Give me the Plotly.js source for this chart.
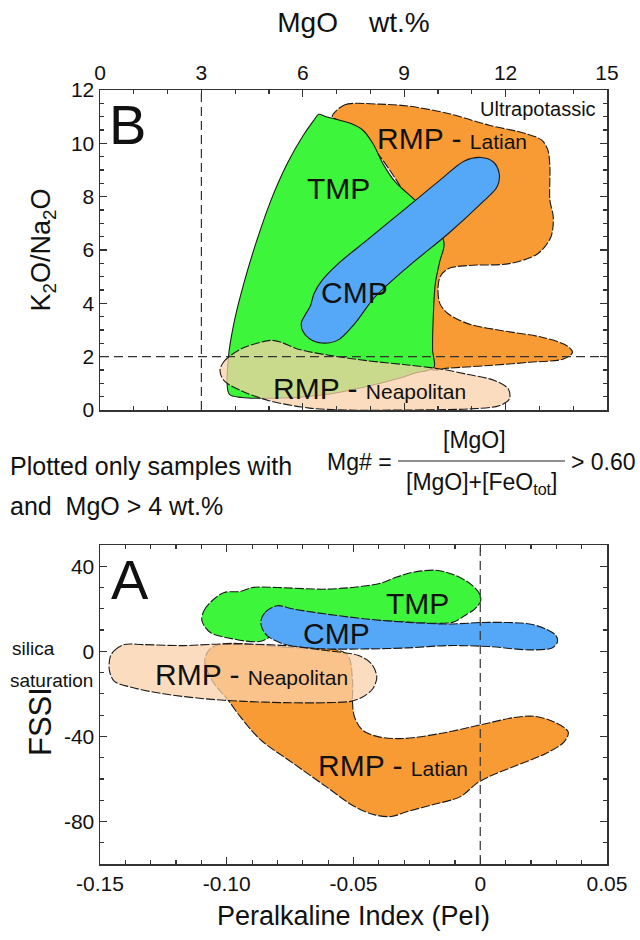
<!DOCTYPE html>
<html><head><meta charset="utf-8">
<script src="https://cdn.plot.ly/plotly-3.0.1.min.js"></script>
<style>html,body{margin:0;padding:0;background:#fff}#chart{width:640px;height:940px}</style>
</head><body><div id="chart"></div>
<script>
// ---------- Panel B : MgO (wt.%) vs K2O/Na2O ----------
const bLatianMgO = [6.87,7.23,8.25,9.10,10.30,11.51,12.59,13.07,13.25,13.31,13.31,13.41,13.34,12.95,12.11,10.90,10.30,10.06,10.00,10.06,10.30,10.90,11.87,13.07,13.80,13.98,13.73,12.71,11.51,10.30,9.76,9.58,9.58,7.89,7.05,6.87];
const bLatianK   = [11.00,11.44,11.47,11.40,11.12,10.68,10.37,10.12,9.75,9.12,7.87,7.24,6.49,5.86,5.49,5.42,5.30,4.99,4.48,3.98,3.61,3.23,2.98,2.73,2.42,2.17,1.92,1.79,1.67,1.57,1.54,4.11,6.61,10.12,10.87,11.00];

const bTmpMgO = [3.80,3.98,4.28,4.64,5.06,5.54,6.02,6.33,6.47,6.69,7.41,7.77,8.07,8.37,8.73,9.10,9.82,10.18,10.06,9.92,9.86,9.84,9.88,9.30,8.87,7.80,6.80,5.90,4.80,4.20,3.82,3.80];
const bTmpK   = [1.98,3.36,4.86,6.36,7.87,9.24,10.31,10.87,11.09,11.00,10.75,10.50,10.00,9.24,8.56,8.12,7.24,6.24,5.61,4.73,3.48,2.23,1.60,1.38,1.20,0.85,0.60,0.48,0.44,0.47,0.60,1.98];

const bCmpMgO = [5.96,6.06,6.23,6.33,6.57,7.05,7.89,9.10,10.06,10.78,11.27,11.63,11.81,11.75,11.27,10.30,9.10,8.13,7.53,7.05,6.57,6.20,5.99,5.96];
const bCmpK   = [3.29,3.54,3.92,4.36,4.86,5.49,6.36,7.62,8.62,9.34,9.47,9.31,8.87,8.37,7.74,6.61,5.36,4.23,3.23,2.63,2.51,2.67,2.98,3.29];

const bNeapMgO = [3.55,3.65,3.86,4.28,5.06,5.36,5.84,6.69,7.89,9.10,10.06,10.90,11.69,12.08,12.11,11.81,10.90,9.10,7.29,6.20,5.00,4.16,3.67,3.55];
const bNeapK   = [1.48,1.79,2.04,2.35,2.61,2.54,2.29,2.07,1.85,1.69,1.54,1.33,1.10,0.79,0.41,0.16,0.04,0.00,0.00,0.07,0.35,0.73,1.10,1.48];

// ---------- Panel A : Peralkaline Index vs FSSI ----------
const aLatianPeI = [-0.1018,-0.0769,-0.0528,-0.0504,-0.0504,-0.0496,-0.0464,-0.0400,-0.0303,-0.0159,-0.0046,0.0034,0.0131,0.0211,0.0291,0.0347,0.0331,0.0259,0.0147,0.0034,-0.0014,-0.0078,-0.0191,-0.0287,-0.0351,-0.0416,-0.0496,-0.0608,-0.0737,-0.0865,-0.0946,-0.0994,-0.1058,-0.1087,-0.1066,-0.1018];
const aLatianFSSI = [3.48,1.92,-1.20,-13.68,-23.83,-30.86,-37.10,-40.22,-41.00,-38.66,-35.85,-33.66,-31.17,-30.54,-33.20,-37.88,-42.56,-48.02,-53.49,-58.95,-62.07,-68.32,-72.22,-75.34,-77.68,-76.90,-73.00,-63.63,-52.71,-41.78,-30.86,-23.05,-13.68,-4.32,1.14,3.48];

const aTmpPeI = [-0.1098,-0.1090,-0.1058,-0.1010,-0.0946,-0.0898,-0.0801,-0.0608,-0.0448,-0.0384,-0.0335,-0.0271,-0.0175,-0.0110,-0.0046,-0.0006,0.0002,-0.0022,-0.0062,-0.0110,-0.0448,-0.0769,-0.0865,-0.0994,-0.1066,-0.1098];
const aTmpFSSI = [14.41,19.09,23.78,27.68,28.15,30.02,30.02,29.24,30.80,32.36,34.70,37.04,38.14,36.26,32.36,27.68,23.78,19.87,16.75,13.63,14.41,11.29,4.73,6.29,8.95,14.41];

const aCmpPeI = [-0.0865,-0.0849,-0.0801,-0.0737,-0.0608,-0.0448,-0.0287,-0.0127,0.0034,0.0195,0.0259,0.0299,0.0304,0.0283,0.0195,0.0034,-0.0127,-0.0287,-0.0448,-0.0608,-0.0705,-0.0785,-0.0841,-0.0862,-0.0865];
const aCmpFSSI = [14.41,18.31,21.44,19.87,17.53,15.19,13.63,12.85,13.63,12.85,10.51,7.39,4.27,1.61,0.68,2.24,2.70,1.61,1.14,1.14,1.92,3.80,7.39,11.29,14.41];

const aNeapPeI = [-0.1460,-0.1444,-0.1404,-0.1331,-0.1171,-0.1010,-0.0769,-0.0608,-0.0480,-0.0429,-0.0408,-0.0424,-0.0464,-0.0512,-0.0608,-0.0769,-0.0930,-0.1090,-0.1251,-0.1380,-0.1444,-0.1463,-0.1460];
const aNeapFSSI = [-2.76,0.36,3.17,3.17,2.70,3.48,2.70,0.36,-1.98,-5.88,-12.12,-17.59,-21.49,-23.52,-24.14,-24.14,-23.52,-22.27,-19.93,-16.81,-14.00,-9.00,-2.76];

// reference lines
const refMgO = 3, refK = 2, refPeI = 0;

// tick labels
const mgoTickVals = [0,3,6,9,12,15];
const mgoTickText = ['0','3','6','9','12','15'];
const kTickVals = [0,2,4,6,8,10,12];
const kTickText = ['0','2','4','6','8','10','12'];
const peiTickVals = [-0.15,-0.10,-0.05,0,0.05];
const peiTickText = ['-0.15','-0.10','-0.05','0','0.05'];
const fssiTickVals = [40,0,-40,-80];
const fssiTickText = ['40','0','-40','-80'];

const FONT = 'Liberation Sans, Arial, Helvetica, sans-serif';
const C_ORANGE = '#F99B35', C_GREEN = '#3DF53A', C_BLUE = '#55A8F7', C_PEACH = 'rgba(250,208,168,0.75)';
const EDGE = '#1a1a1a';

function region(x, y, fill, xa, ya, dash) {
  return {type:'scatter', mode:'lines', x:x, y:y, xaxis:xa, yaxis:ya, fill:'toself', fillcolor:fill,
    line:{color:EDGE, width:1.1, shape:'spline', smoothing:0.9, dash:dash||'solid'},
    hoverinfo:'skip', showlegend:false};
}
const DASH = '9px,2px';
const traces = [
  region(bLatianMgO, bLatianK, C_ORANGE, 'x', 'y', DASH),
  region(bTmpMgO, bTmpK, C_GREEN, 'x', 'y'),
  region(bCmpMgO, bCmpK, C_BLUE, 'x', 'y'),
  region(bNeapMgO, bNeapK, C_PEACH, 'x', 'y', DASH),
  region(aLatianPeI, aLatianFSSI, C_ORANGE, 'x2', 'y2', DASH),
  region(aTmpPeI, aTmpFSSI, C_GREEN, 'x2', 'y2', DASH),
  region(aCmpPeI, aCmpFSSI, C_BLUE, 'x2', 'y2', DASH),
  region(aNeapPeI, aNeapFSSI, C_PEACH, 'x2', 'y2', DASH)
];

const axCommon = {showgrid:false, zeroline:false, showline:true, linecolor:'#333', linewidth:1.5,
  ticks:'inside', ticklen:7, tickwidth:1.2, tickcolor:'#333', mirror:'allticks',
  tickfont:{family:FONT, size:21, color:'#111'}, tickmode:'array', automargin:false, fixedrange:true};
function minor(d, t0) { return {tickmode:'linear', tick0:t0, dtick:d, ticklen:4, tickwidth:1.2, tickcolor:'#333', ticks:'inside'}; }

const xDom = [100/640, 607/640];
function note(xr, yr, x, y, text, size, xanchor, extra) {
  return Object.assign({xref:xr, yref:yr, x:x, y:y, text:text, showarrow:false,
    xanchor:xanchor||'center', yanchor:'middle', font:{size:size}}, extra||{});
}
const layout = {
  width:640, height:940, margin:{l:0,r:0,t:0,b:0}, paper_bgcolor:'#fff', plot_bgcolor:'#fff',
  font:{family:FONT, color:'#111'}, showlegend:false,
  xaxis: Object.assign({}, axCommon, {domain:xDom, anchor:'y', side:'top', range:[0,15],
    tickvals:mgoTickVals, ticktext:mgoTickText, minor:minor(1,0),
    title:{text:'MgO\u00a0\u00a0\u00a0\u00a0wt.%', font:{family:FONT, size:28, color:'#111'}, standoff:20}}),
  yaxis: Object.assign({}, axCommon, {domain:[1-410/940, 1-90/940], anchor:'x', range:[0,12],
    tickvals:kTickVals, ticktext:kTickText, minor:minor(0.5,0),
    title:{text:'K<sub>2</sub>O/Na<sub>2</sub>O', font:{family:FONT, size:27, color:'#111'}, standoff:12}}),
  xaxis2: Object.assign({}, axCommon, {domain:xDom, anchor:'y2', range:[-0.15,0.05],
    tickvals:peiTickVals, ticktext:peiTickText, minor:minor(0.01,0),
    title:{text:'Peralkaline Index (PeI)', font:{family:FONT, size:27, color:'#111'}, standoff:12}}),
  yaxis2: Object.assign({}, axCommon, {domain:[1-864/940, 1-545/940], anchor:'x2', range:[-100,50],
    tickvals:fssiTickVals, ticktext:fssiTickText, minor:minor(10,0)}),
  shapes: [
    {type:'line', xref:'x', yref:'y', x0:refMgO, x1:refMgO, y0:0, y1:12, layer:'above', line:{color:'#333', width:1.2, dash:'9px,5px'}},
    {type:'line', xref:'x', yref:'y', x0:0, x1:15, y0:refK, y1:refK, layer:'above', line:{color:'#333', width:1.2, dash:'9px,5px'}},
    {type:'line', xref:'x2', yref:'y2', x0:refPeI, x1:refPeI, y0:-100, y1:50, layer:'above', line:{color:'#333', width:1.2, dash:'9px,5px'}},
    {type:'line', xref:'paper', yref:'paper', x0:398/640, x1:565/640, y0:1-461/940, y1:1-461/940, line:{color:'#222', width:1.2}}
  ],
  annotations: [
    // panel B
    note('x','y', 0.81, 10.7, 'B', 56),
    note('x','y', 7.05, 8.3, 'TMP', 30),
    note('x','y', 7.53, 4.42, 'CMP', 30),
    note('x','y', 8.13, 10.18, 'RMP - <span style="font-size:21px">Latian</span>', 30, 'left'),
    note('x','y', 5.05, 0.79, 'RMP - <span style="font-size:21px">Neapolitan</span>', 30, 'left'),
    note('x','y', 14.72, 11.27, 'Ultrapotassic', 20, 'right'),
    // panel A
    note('x2','y2', -0.138, 34.0, 'A', 56),
    note('x2','y2', -0.0247, 22.5, 'TMP', 30),
    note('x2','y2', -0.0568, 8.2, 'CMP', 30),
    note('x2','y2', -0.129, -10.9, 'RMP - <span style="font-size:21px">Neapolitan</span>', 30, 'left'),
    note('x2','y2', -0.0649, -53.5, 'RMP - <span style="font-size:21px">Latian</span>', 30, 'left'),
    note('paper','paper', 10/640, 1-648/940, 'silica', 19, 'left'),
    note('paper','paper', 8/640, 1-680/940, 'saturation', 19, 'left'),
    note('paper','paper', 40/640, 1-722/940, 'FSSI', 31, 'center', {textangle:-90}),
    // middle notes
    note('paper','paper', 8/640, 1-466/940, 'Plotted only samples with', 25, 'left'),
    note('paper','paper', 8/640, 1-506/940, 'and\u00a0\u00a0MgO > 4 wt.%', 25, 'left'),
    note('paper','paper', 394/640, 1-462/940, 'Mg# =', 23, 'right'),
    note('paper','paper', 474/640, 1-440/940, '[MgO]', 23),
    note('paper','paper', 481/640, 1-484/940, '[MgO]+[FeO<sub>tot</sub>]', 23),
    note('paper','paper', 569/640, 1-462/940, '> 0.60', 23, 'left')
  ]
};
Plotly.newPlot('chart', traces, layout, {staticPlot:true, displayModeBar:false});
</script></body></html>
